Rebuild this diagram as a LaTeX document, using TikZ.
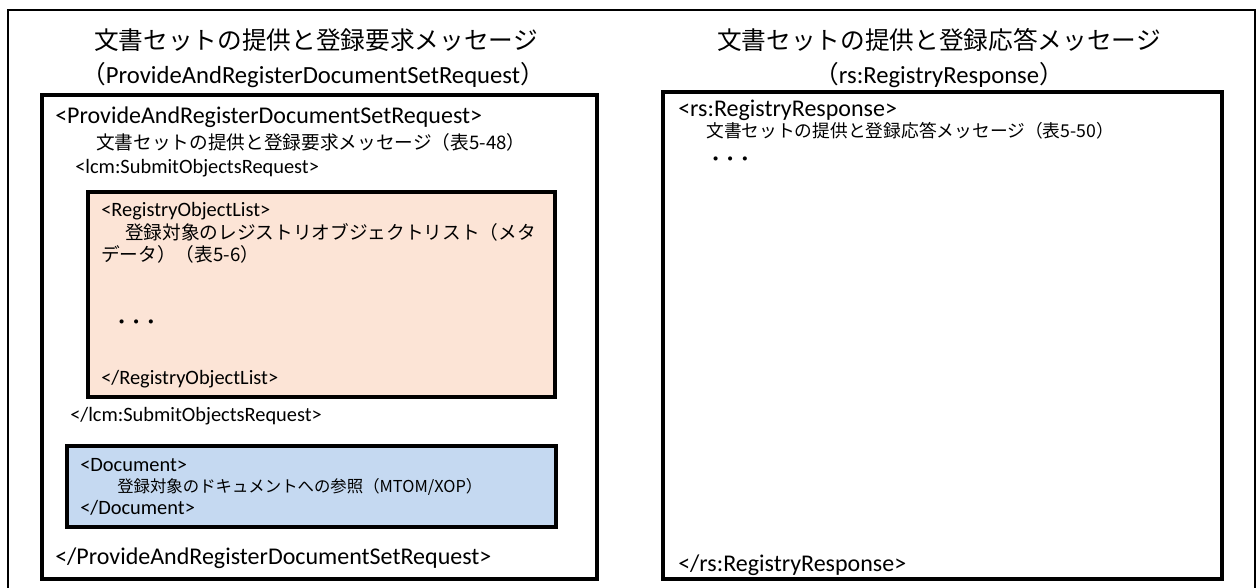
\documentclass[tikz,border=0pt]{standalone}
\usepackage{fontspec}
\setmainfont{Carlito}
\newfontfamily\jp{Noto Sans CJK JP}
\usetikzlibrary{positioning}
\definecolor{peach}{RGB}{252,228,214}
\definecolor{paleblue}{RGB}{197,217,241}

\begin{document}
\begin{tikzpicture}[x=0.75pt,y=-0.75pt,
  frameline/.style={draw=black,line width=1.5pt},
  boxline/.style={draw=black,line width=2.3pt},
  ttl/.style={font=\fontsize{18.5}{20}\selectfont,inner sep=0pt},
  bigtag/.style={anchor=west,inner sep=0pt,font=\fontsize{18}{20}\selectfont},
  tag/.style={anchor=west,inner sep=0pt,font=\fontsize{15.3}{17}\selectfont},
  desc/.style={anchor=west,inner sep=0pt,font=\jp\fontsize{14}{16}\selectfont},
  smalldesc/.style={anchor=west,inner sep=0pt,font=\jp\fontsize{12.3}{15}\selectfont},
  dots/.style={anchor=west,inner sep=0pt,font=\jp\bfseries\fontsize{11}{12}\selectfont},
]
  \useasboundingbox (0,0) rectangle (1257,587);
  \draw[frameline] (8,600) -- (8,10) -- (1255,10) -- (1255,600);

  % request side
  \node[ttl] (ltitle1) at (316,40) {\jp 文書セットの提供と登録要求メッセージ};
  \node[ttl] (ltitle2) at (313,75) {{\jp （}ProvideAndRegisterDocumentSetRequest{\jp ）}};
  \draw[boxline] (42,95) rectangle (597,579);
  \draw[boxline,fill=peach] (88,192) rectangle (555,397);
  \draw[boxline,fill=paleblue] (67,446) rectangle (556,527);
  \node[bigtag] (reqopen) at (55,117) {<ProvideAndRegisterDocumentSetRequest>};
  \node[desc] (reqdesc) at (96,142) {文書セットの提供と登録要求メッセージ（表5-48）};
  \node[tag] (subopen) at (75,168) {<lcm:SubmitObjectsRequest>};
  \node[tag] (rolopen) at (101,211) {<RegistryObjectList>};
  \node[desc] (roldesc1) at (125,232) {登録対象のレジストリオブジェクトリスト（メタ};
  \node[desc] (roldesc2) at (101,254) {データ）（表5-6）};
  \node[dots] (roldots) at (114,324) {・・・};
  \node[tag] (rolclose) at (101,379) {</RegistryObjectList>};
  \node[tag] (subclose) at (70,416) {</lcm:SubmitObjectsRequest>};
  \node[tag] (docopen) at (80,465) {<Document>};
  \node[smalldesc] (docdesc) at (117,487) {登録対象のドキュメントへの参照（MTOM/XOP）};
  \node[tag] (docclose) at (80,508) {</Document>};
  \node[bigtag] (reqclose) at (55,558) {</ProvideAndRegisterDocumentSetRequest>};

  % response side
  \node[ttl] (rtitle1) at (939,40) {\jp 文書セットの提供と登録応答メッセージ};
  \node[ttl] (rtitle2) at (939,75) {{\jp （}rs:RegistryResponse{\jp ）}};
  \draw[boxline] (663,92) rectangle (1222,579);
  \node[bigtag] (resopen) at (678,110) {<rs:RegistryResponse>};
  \node[desc,font=\jp\fontsize{13.3}{15}\selectfont] (resdesc) at (706,131) {文書セットの提供と登録応答メッセージ（表5-50）};
  \node[dots] (resdots) at (708,161) {・・・};
  \node[bigtag] (resclose) at (678,565) {</rs:RegistryResponse>};
\end{tikzpicture}
\end{document}
